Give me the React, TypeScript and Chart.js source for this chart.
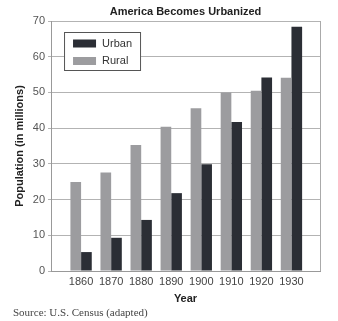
import React, { useEffect, useRef } from 'react';
import { Chart, registerables } from 'chart.js';

Chart.register(...registerables);

const chartTitle = 'America Becomes Urbanized';
const sourceNote = 'Source: U.S. Census (adapted)';
const yTitle = 'Population (in millions)';
const xTitle = 'Year';
const years = [1860, 1870, 1880, 1890, 1900, 1910, 1920, 1930];
const rural = [24.9, 27.6, 35.3, 40.4, 45.6, 50.0, 50.5, 54.1];
const urban = [5.3, 9.3, 14.3, 21.8, 29.9, 41.7, 54.2, 68.4];
const yTicks = [0, 10, 20, 30, 40, 50, 60, 70];
const seriesNames = ['Rural', 'Urban'];

const FAMILY = "'Liberation Sans', Arial, Helvetica, sans-serif";
const SERIF = "'Liberation Serif', 'Times New Roman', serif";

const boxLegend = {
  id: 'boxLegend',
  afterDraw(chart: any, _args: any, o: any) {
    const { ctx, chartArea } = chart;
    ctx.save();
    // right frame line
    ctx.strokeStyle = o.frameColor;
    ctx.lineWidth = 1;
    ctx.beginPath();
    ctx.moveTo(chartArea.right + 0.5, chartArea.top);
    ctx.lineTo(chartArea.right + 0.5, chartArea.bottom);
    ctx.stroke();
    // legend box
    const x = chartArea.left + o.offsetX;
    const y = chartArea.top + o.offsetY;
    ctx.fillStyle = '#ffffff';
    ctx.fillRect(x, y, o.width, o.height);
    ctx.strokeStyle = o.borderColor;
    ctx.strokeRect(x + 0.5, y + 0.5, o.width - 1, o.height - 1);
    ctx.font = o.font;
    ctx.textBaseline = 'middle';
    ctx.textAlign = 'left';
    const ds = chart.data.datasets.slice().reverse();
    ds.forEach((d: any, i: number) => {
      const cy = y + o.firstRow + i * o.rowGap;
      ctx.fillStyle = d.backgroundColor;
      ctx.fillRect(x + o.padX, cy - o.swH / 2, o.swW, o.swH);
      ctx.fillStyle = o.color;
      ctx.fillText(d.label, x + o.padX + o.swW + o.gap, cy);
    });
    ctx.restore();
  },
};

export default function App() {
  const ref = useRef<HTMLCanvasElement | null>(null);

  useEffect(() => {
    if (!ref.current) return;
    Chart.defaults.font.family = FAMILY;
    const chart = new Chart(ref.current, {
      type: 'bar',
      data: {
        datasets: [
          {
            label: seriesNames[0],
            data: years.map((yr, i) => ({ x: yr, y: rural[i] })),
            backgroundColor: '#9c9c9f',
            categoryPercentage: 0.71,
            barPercentage: 1,
          },
          {
            label: seriesNames[1],
            data: years.map((yr, i) => ({ x: yr, y: urban[i] })),
            backgroundColor: '#2b2e35',
            categoryPercentage: 0.71,
            barPercentage: 1,
          },
        ],
      },
      options: {
        responsive: false,
        animation: false,
        layout: { padding: { left: 13, right: 18, top: 0, bottom: 0 } },
        scales: {
          x: {
            type: 'linear',
            min: 1850,
            max: 1939.5,
            offset: false,
            afterBuildTicks: (s: any) => {
              s.ticks = years.map((v) => ({ value: v }));
            },
            grid: { display: false, drawTicks: false, offset: false },
            border: { color: '#999999' },
            ticks: {
              padding: 4,
              color: '#444444',
              font: { size: 11, family: FAMILY },
              maxRotation: 0,
              autoSkip: false,
              callback: (v: any) => String(v),
            },
            title: {
              display: true,
              text: xTitle,
              color: '#222222',
              font: { size: 11, weight: 'bold', family: FAMILY },
              padding: { top: 0, bottom: 0 },
            },
          },
          y: {
            min: 0,
            max: 70,
            afterBuildTicks: (s: any) => {
              s.ticks = yTicks.map((v) => ({ value: v }));
            },
            grid: { color: '#b3b3b3', drawTicks: true, tickLength: 3 },
            border: { color: '#999999' },
            ticks: {
              padding: 3,
              color: '#555555',
              font: { size: 11, family: FAMILY },
            },
            title: {
              display: true,
              text: yTitle,
              color: '#222222',
              font: { size: 11, weight: 'bold', family: FAMILY },
              padding: { top: 0.4, bottom: 3.2 },
            },
          },
        },
        plugins: {
          legend: { display: false },
          tooltip: { enabled: false },
          title: {
            display: true,
            text: chartTitle,
            fullSize: false,
            color: '#222222',
            font: { size: 11, weight: 'bold', family: FAMILY },
            padding: { top: 5, bottom: 2.8 },
          },
          subtitle: {
            display: true,
            text: sourceNote,
            position: 'bottom',
            align: 'start',
            color: '#444444',
            font: { size: 11, family: SERIF, weight: 'normal' },
            padding: { top: 1, bottom: 1.4 },
          },
          boxLegend: {
            offsetX: 13,
            offsetY: 11,
            width: 77,
            height: 39,
            padX: 9,
            swW: 23,
            swH: 8,
            firstRow: 11.5,
            rowGap: 17.5,
            gap: 6,
            font: `11px ${FAMILY}`,
            color: '#333333',
            borderColor: '#555555',
            frameColor: '#aaaaaa',
          },
        } as any,
      },
      plugins: [boxLegend],
    } as any);
    return () => chart.destroy();
  }, []);

  return (
    <div style={{ position: 'fixed', left: 0, top: 0, width: 338, height: 321 }}>
      <canvas ref={ref} width={338} height={321} style={{ display: 'block', width: 338, height: 321 }} />
    </div>
  );
}
